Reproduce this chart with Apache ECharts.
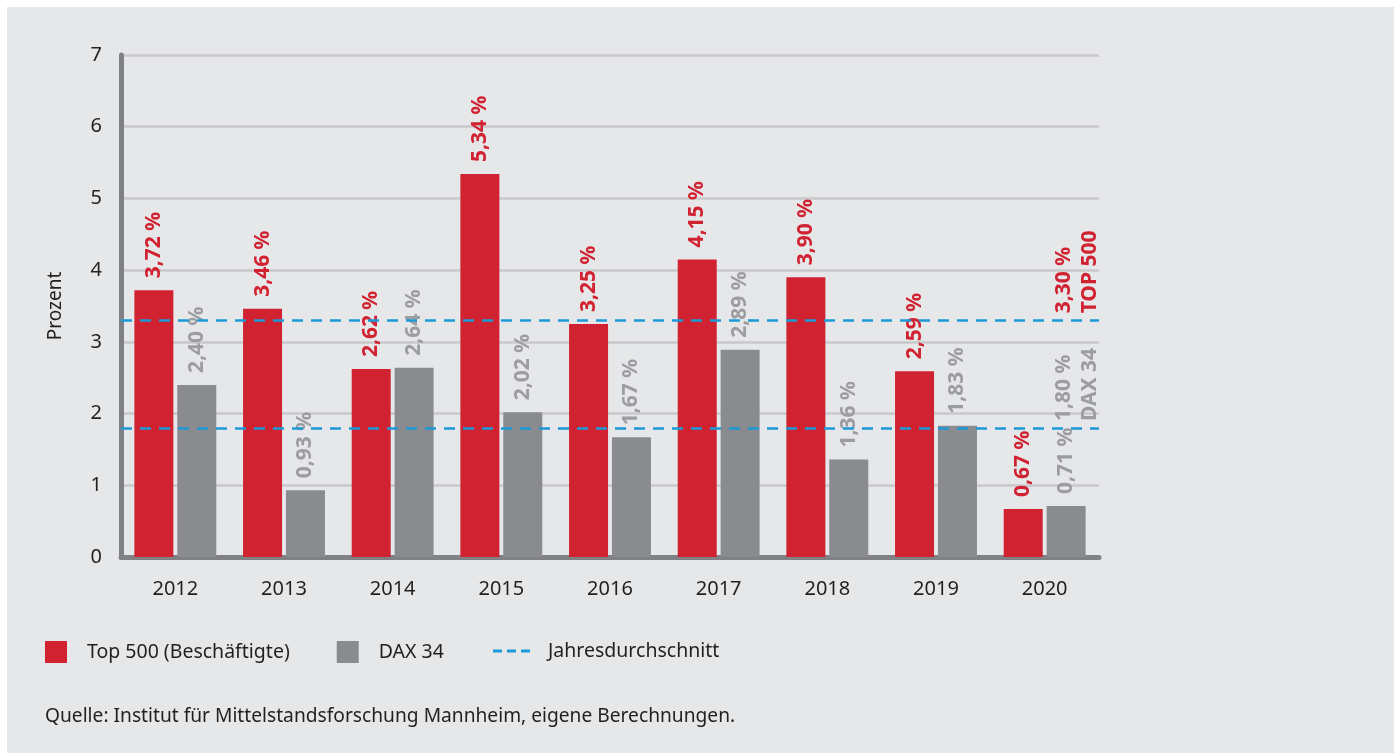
<!DOCTYPE html>
<html>
<head>
<meta charset="utf-8">
<script src="https://cdn.jsdelivr.net/npm/echarts@6/dist/echarts.min.js"></script>
<style>
  html, body { margin: 0; padding: 0; background: #ffffff; }
  #panel { position: absolute; left: 7px; top: 7px; width: 1387px; height: 746px; background: #e6e7e8; }
  #chart { position: absolute; left: 0; top: 0; width: 1394px; height: 753px; }
</style>
</head>
<body>
<div id="panel"></div>
<div id="chart"></div>
<script>
// Fluktuationsraten je Jahr, in Prozent
const years = ['2012', '2013', '2014', '2015', '2016', '2017', '2018', '2019', '2020'];
const top500 = [3.72, 3.46, 2.62, 5.34, 3.25, 4.15, 3.90, 2.59, 0.67];
const dax34 = [2.40, 0.93, 2.64, 2.02, 1.67, 2.89, 1.36, 1.83, 0.71];
// Jahresdurchschnitt beider Gruppen
const avgTop500 = 3.30;
const avgDax34 = 1.80;
const avgNames = ['TOP 500', 'DAX 34'];

const RED = '#d12232';
const GREY = '#8a8b8e';
const GREY_LABEL = '#9c9da0';
const BLUE = '#1a9ad7';
const TEXT = '#231f20';
const FONT = "'Noto Sans', 'Open Sans', sans-serif";

const fmt = v => v.toFixed(2).replace('.', ',') + ' %';

const barLabel = color => ({
  show: true,
  position: 'top',
  rotate: 90,
  align: 'left',
  verticalAlign: 'middle',
  distance: 12,
  color: color,
  fontFamily: FONT,
  fontWeight: 'bold',
  fontSize: 21,
  formatter: p => fmt(p.value)
});

// Beschriftung am rechten Ende der Durchschnittslinien
const avgLabel = (color, name) => ({
  show: true,
  position: 'top',
  rotate: 90,
  align: 'left',
  verticalAlign: 'middle',
  distance: 7,
  offset: [0, 32],
  color: color,
  fontFamily: FONT,
  fontWeight: 'bold',
  fontSize: 21,
  lineHeight: 26,
  formatter: p => fmt(p.value) + '\n' + name
});

const chart = echarts.init(document.getElementById('chart'));
chart.setOption({
  backgroundColor: 'transparent',
  animation: false,
  textStyle: { fontFamily: FONT },
  grid: { left: 121, right: 295, top: 55, bottom: 196, containLabel: false },
  legend: [
    {
      left: 45, top: 641, padding: 0,
      itemWidth: 22, itemHeight: 22, itemGap: 47,
      icon: 'rect',
      selectedMode: false,
      textStyle: { color: TEXT, fontSize: 19.5, fontFamily: FONT, padding: [0, 0, 0, 15] },
      data: ['Top 500 (Beschäftigte)', 'DAX 34']
    },
    {
      left: 493, top: 641, padding: 0,
      itemWidth: 37, itemHeight: 22,
      selectedMode: false,
      textStyle: { color: TEXT, fontSize: 19.5, fontFamily: FONT, padding: [0, 0, 0, 13] },
      data: [{
        name: 'Jahresdurchschnitt',
        icon: 'path://M0,0h9v3h-9z M14,0h9v3h-9z M28,0h9v3h-9z'
      }]
    }
  ],
  graphic: [{
    type: 'text',
    left: 45, top: 707,
    style: {
      text: 'Quelle: Institut für Mittelstandsforschung Mannheim, eigene Berechnungen.',
      fill: TEXT, fontSize: 19.2, fontFamily: FONT
    }
  }],
  xAxis: {
    type: 'category',
    data: years,
    axisLine: { show: true, lineStyle: { color: '#808184', width: 5 } },
    axisTick: { show: false },
    axisLabel: { color: TEXT, fontSize: 20, margin: 22, fontFamily: FONT }
  },
  yAxis: {
    type: 'value',
    min: 0, max: 7, interval: 1,
    name: 'Prozent',
    nameLocation: 'middle',
    nameGap: 56,
    nameTextStyle: { color: TEXT, fontSize: 19, fontFamily: FONT },
    axisLine: { show: true, lineStyle: { color: '#808184', width: 5 } },
    axisTick: { show: false },
    axisLabel: { color: TEXT, fontSize: 20, margin: 19, fontFamily: FONT },
    splitLine: { lineStyle: { color: '#c8c9cb', width: 2.5 } }
  },
  series: [
    {
      name: 'Top 500 (Beschäftigte)',
      type: 'bar',
      data: top500,
      barWidth: 39,
      barGap: '10%',
      itemStyle: { color: RED },
      label: barLabel(RED)
    },
    {
      name: 'DAX 34',
      type: 'bar',
      data: dax34,
      barWidth: 39,
      itemStyle: { color: GREY },
      label: barLabel(GREY_LABEL)
    },
    {
      name: 'Jahresdurchschnitt',
      type: 'line',
      data: [],
      itemStyle: { color: BLUE },
      lineStyle: { color: BLUE },
      markLine: {
        silent: true,
        symbol: 'none',
        label: { show: false },
        lineStyle: { color: BLUE, type: [11, 8], width: 2.5 },
        data: [{ yAxis: avgTop500 }, { yAxis: avgDax34 }]
      },
      markPoint: {
        silent: true,
        symbol: 'circle',
        symbolSize: 0,
        data: [
          { coord: [years[years.length - 1], avgTop500], value: avgTop500, label: avgLabel(RED, avgNames[0]) },
          { coord: [years[years.length - 1], avgDax34], value: avgDax34, label: avgLabel(GREY_LABEL, avgNames[1]) }
        ]
      }
    }
  ]
});
</script>
</body>
</html>
